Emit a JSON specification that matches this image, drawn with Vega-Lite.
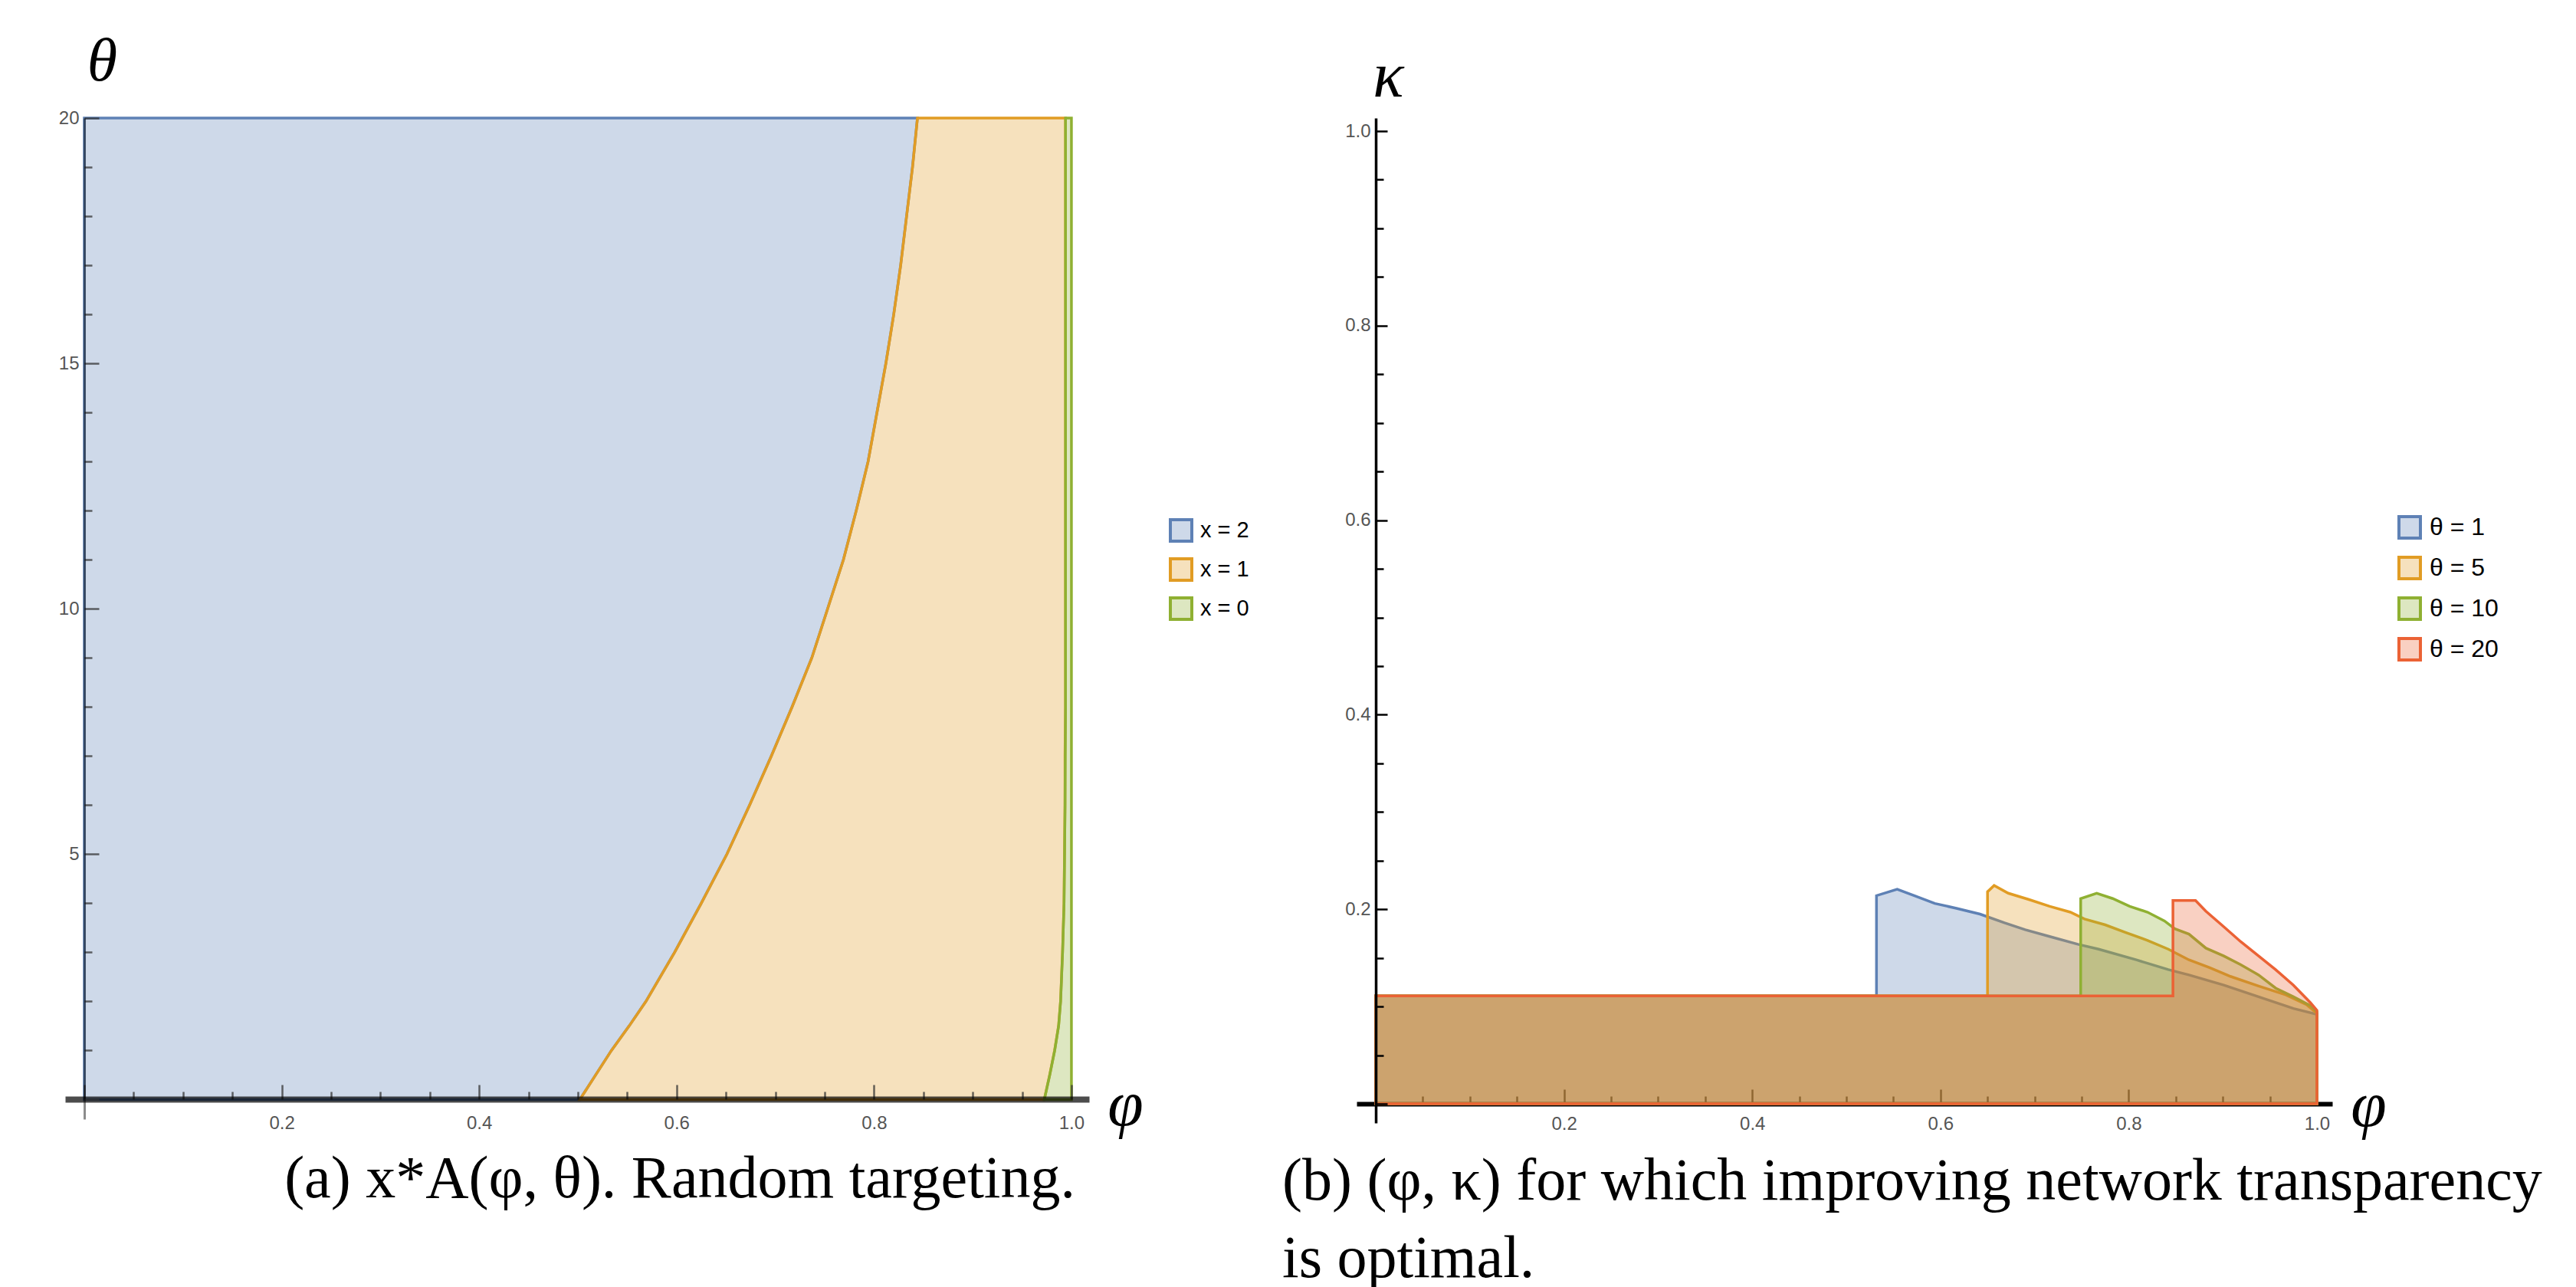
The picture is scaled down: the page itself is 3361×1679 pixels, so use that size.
{
  "$schema": "https://vega.github.io/schema/vega-lite/v6.json",
  "background": "white",
  "padding": {"left": 76, "top": 40, "right": 5, "bottom": 5},
  "bounds": "flush",
  "spacing": 349,
  "resolve": {"scale": {"fill": "independent", "stroke": "independent"}, "legend": {"fill": "independent", "stroke": "independent"}},
  "config": {"view": {"stroke": null}},
  "datasets": {
    "left": [
      {"r": "x = 2", "theta": 0, "lo": 0, "hi": 0.502},
      {"r": "x = 2", "theta": 0.5, "lo": 0, "hi": 0.518},
      {"r": "x = 2", "theta": 1, "lo": 0, "hi": 0.534},
      {"r": "x = 2", "theta": 1.5, "lo": 0, "hi": 0.552},
      {"r": "x = 2", "theta": 2, "lo": 0, "hi": 0.569},
      {"r": "x = 2", "theta": 3, "lo": 0, "hi": 0.598},
      {"r": "x = 2", "theta": 4, "lo": 0, "hi": 0.625},
      {"r": "x = 2", "theta": 5, "lo": 0, "hi": 0.651},
      {"r": "x = 2", "theta": 6, "lo": 0, "hi": 0.674},
      {"r": "x = 2", "theta": 7, "lo": 0, "hi": 0.696},
      {"r": "x = 2", "theta": 8, "lo": 0, "hi": 0.717},
      {"r": "x = 2", "theta": 9, "lo": 0, "hi": 0.737},
      {"r": "x = 2", "theta": 10, "lo": 0, "hi": 0.753},
      {"r": "x = 2", "theta": 11, "lo": 0, "hi": 0.769},
      {"r": "x = 2", "theta": 12, "lo": 0, "hi": 0.782},
      {"r": "x = 2", "theta": 13, "lo": 0, "hi": 0.794},
      {"r": "x = 2", "theta": 14, "lo": 0, "hi": 0.803},
      {"r": "x = 2", "theta": 15, "lo": 0, "hi": 0.812},
      {"r": "x = 2", "theta": 16, "lo": 0, "hi": 0.82},
      {"r": "x = 2", "theta": 17, "lo": 0, "hi": 0.827},
      {"r": "x = 2", "theta": 18, "lo": 0, "hi": 0.833},
      {"r": "x = 2", "theta": 19, "lo": 0, "hi": 0.839},
      {"r": "x = 2", "theta": 20, "lo": 0, "hi": 0.844},
      {"r": "x = 1", "theta": 0, "lo": 0.502, "hi": 0.9725},
      {"r": "x = 1", "theta": 0.5, "lo": 0.518, "hi": 0.978},
      {"r": "x = 1", "theta": 1, "lo": 0.534, "hi": 0.983},
      {"r": "x = 1", "theta": 1.5, "lo": 0.552, "hi": 0.987},
      {"r": "x = 1", "theta": 2, "lo": 0.569, "hi": 0.989},
      {"r": "x = 1", "theta": 3, "lo": 0.598, "hi": 0.991},
      {"r": "x = 1", "theta": 4, "lo": 0.625, "hi": 0.9925},
      {"r": "x = 1", "theta": 5, "lo": 0.651, "hi": 0.993},
      {"r": "x = 1", "theta": 6, "lo": 0.674, "hi": 0.9935},
      {"r": "x = 1", "theta": 7, "lo": 0.696, "hi": 0.9935},
      {"r": "x = 1", "theta": 8, "lo": 0.717, "hi": 0.994},
      {"r": "x = 1", "theta": 9, "lo": 0.737, "hi": 0.994},
      {"r": "x = 1", "theta": 10, "lo": 0.753, "hi": 0.994},
      {"r": "x = 1", "theta": 11, "lo": 0.769, "hi": 0.994},
      {"r": "x = 1", "theta": 12, "lo": 0.782, "hi": 0.994},
      {"r": "x = 1", "theta": 13, "lo": 0.794, "hi": 0.994},
      {"r": "x = 1", "theta": 14, "lo": 0.803, "hi": 0.994},
      {"r": "x = 1", "theta": 15, "lo": 0.812, "hi": 0.994},
      {"r": "x = 1", "theta": 16, "lo": 0.82, "hi": 0.994},
      {"r": "x = 1", "theta": 17, "lo": 0.827, "hi": 0.994},
      {"r": "x = 1", "theta": 18, "lo": 0.833, "hi": 0.994},
      {"r": "x = 1", "theta": 19, "lo": 0.839, "hi": 0.994},
      {"r": "x = 1", "theta": 20, "lo": 0.844, "hi": 0.994},
      {"r": "x = 0", "theta": 0, "lo": 0.9725, "hi": 1},
      {"r": "x = 0", "theta": 0.5, "lo": 0.978, "hi": 1},
      {"r": "x = 0", "theta": 1, "lo": 0.983, "hi": 1},
      {"r": "x = 0", "theta": 1.5, "lo": 0.987, "hi": 1},
      {"r": "x = 0", "theta": 2, "lo": 0.989, "hi": 1},
      {"r": "x = 0", "theta": 3, "lo": 0.991, "hi": 1},
      {"r": "x = 0", "theta": 4, "lo": 0.9925, "hi": 1},
      {"r": "x = 0", "theta": 5, "lo": 0.993, "hi": 1},
      {"r": "x = 0", "theta": 6, "lo": 0.9935, "hi": 1},
      {"r": "x = 0", "theta": 8, "lo": 0.994, "hi": 1},
      {"r": "x = 0", "theta": 20, "lo": 0.994, "hi": 1}
    ],
    "right": [
      {"s": "θ = 1", "phi": 0, "kappa": 0.111},
      {"s": "θ = 1", "phi": 0.532, "kappa": 0.111},
      {"s": "θ = 1", "phi": 0.532, "kappa": 0.214},
      {"s": "θ = 1", "phi": 0.554, "kappa": 0.2205},
      {"s": "θ = 1", "phi": 0.572, "kappa": 0.214},
      {"s": "θ = 1", "phi": 0.594, "kappa": 0.206},
      {"s": "θ = 1", "phi": 0.617, "kappa": 0.201},
      {"s": "θ = 1", "phi": 0.642, "kappa": 0.195},
      {"s": "θ = 1", "phi": 0.668, "kappa": 0.186},
      {"s": "θ = 1", "phi": 0.69, "kappa": 0.179},
      {"s": "θ = 1", "phi": 0.716, "kappa": 0.172},
      {"s": "θ = 1", "phi": 0.746, "kappa": 0.164},
      {"s": "θ = 1", "phi": 0.768, "kappa": 0.159},
      {"s": "θ = 1", "phi": 0.808, "kappa": 0.148},
      {"s": "θ = 1", "phi": 0.842, "kappa": 0.138},
      {"s": "θ = 1", "phi": 0.864, "kappa": 0.1325},
      {"s": "θ = 1", "phi": 0.901, "kappa": 0.122},
      {"s": "θ = 1", "phi": 0.938, "kappa": 0.11},
      {"s": "θ = 1", "phi": 0.975, "kappa": 0.098},
      {"s": "θ = 1", "phi": 1.0, "kappa": 0.092},
      {"s": "θ = 5", "phi": 0, "kappa": 0.111},
      {"s": "θ = 5", "phi": 0.65, "kappa": 0.111},
      {"s": "θ = 5", "phi": 0.65, "kappa": 0.218},
      {"s": "θ = 5", "phi": 0.657, "kappa": 0.2244},
      {"s": "θ = 5", "phi": 0.672, "kappa": 0.2165},
      {"s": "θ = 5", "phi": 0.694, "kappa": 0.21},
      {"s": "θ = 5", "phi": 0.716, "kappa": 0.203},
      {"s": "θ = 5", "phi": 0.738, "kappa": 0.197},
      {"s": "θ = 5", "phi": 0.753, "kappa": 0.19},
      {"s": "θ = 5", "phi": 0.775, "kappa": 0.184},
      {"s": "θ = 5", "phi": 0.797, "kappa": 0.176},
      {"s": "θ = 5", "phi": 0.82, "kappa": 0.168},
      {"s": "θ = 5", "phi": 0.842, "kappa": 0.159},
      {"s": "θ = 5", "phi": 0.864, "kappa": 0.148},
      {"s": "θ = 5", "phi": 0.886, "kappa": 0.14},
      {"s": "θ = 5", "phi": 0.908, "kappa": 0.131},
      {"s": "θ = 5", "phi": 0.938, "kappa": 0.121},
      {"s": "θ = 5", "phi": 0.967, "kappa": 0.112},
      {"s": "θ = 5", "phi": 0.989, "kappa": 0.102},
      {"s": "θ = 5", "phi": 1.0, "kappa": 0.093},
      {"s": "θ = 10", "phi": 0, "kappa": 0.111},
      {"s": "θ = 10", "phi": 0.749, "kappa": 0.111},
      {"s": "θ = 10", "phi": 0.749, "kappa": 0.211},
      {"s": "θ = 10", "phi": 0.766, "kappa": 0.2165},
      {"s": "θ = 10", "phi": 0.783, "kappa": 0.211},
      {"s": "θ = 10", "phi": 0.801, "kappa": 0.203},
      {"s": "θ = 10", "phi": 0.82, "kappa": 0.197},
      {"s": "θ = 10", "phi": 0.838, "kappa": 0.188},
      {"s": "θ = 10", "phi": 0.849, "kappa": 0.18},
      {"s": "θ = 10", "phi": 0.864, "kappa": 0.1745},
      {"s": "θ = 10", "phi": 0.882, "kappa": 0.16},
      {"s": "θ = 10", "phi": 0.901, "kappa": 0.152},
      {"s": "θ = 10", "phi": 0.919, "kappa": 0.143},
      {"s": "θ = 10", "phi": 0.938, "kappa": 0.1325},
      {"s": "θ = 10", "phi": 0.956, "kappa": 0.119},
      {"s": "θ = 10", "phi": 0.975, "kappa": 0.11},
      {"s": "θ = 10", "phi": 0.993, "kappa": 0.101},
      {"s": "θ = 10", "phi": 1.0, "kappa": 0.0945},
      {"s": "θ = 20", "phi": 0, "kappa": 0.111},
      {"s": "θ = 20", "phi": 0.847, "kappa": 0.111},
      {"s": "θ = 20", "phi": 0.847, "kappa": 0.209},
      {"s": "θ = 20", "phi": 0.871, "kappa": 0.209},
      {"s": "θ = 20", "phi": 0.882, "kappa": 0.198},
      {"s": "θ = 20", "phi": 0.901, "kappa": 0.182},
      {"s": "θ = 20", "phi": 0.919, "kappa": 0.1667},
      {"s": "θ = 20", "phi": 0.938, "kappa": 0.152},
      {"s": "θ = 20", "phi": 0.956, "kappa": 0.138},
      {"s": "θ = 20", "phi": 0.975, "kappa": 0.122},
      {"s": "θ = 20", "phi": 0.993, "kappa": 0.104},
      {"s": "θ = 20", "phi": 1.0, "kappa": 0.096}
    ]
  },
  "hconcat": [
    {
      "width": 1336,
      "height": 1306,
      "data": {"name": "left"},
      "title": {
        "text": "(a) x*A(φ, θ). Random targeting.",
        "orient": "bottom",
        "anchor": "end",
        "frame": "group",
        "font": "Liberation Serif",
        "fontSize": 78,
        "fontWeight": "normal",
        "color": "black",
        "offset": 14,
        "dx": -18
      },
      "encoding": {
        "y": {
          "field": "theta",
          "type": "quantitative",
          "scale": {"domain": [-0.4, 20], "nice": false, "zero": false},
          "axis": {
            "values": [0,1,2,3,4,5,6,7,8,9,10,11,12,13,14,15,16,17,18,19,20],
            "labelExpr": "datum.value % 5 == 0 && datum.value > 0 ? '' + datum.value : ''",
            "tickSize": {"condition": {"test": "datum.value % 5 == 0", "value": -19}, "value": -10},
            "tickColor": "#333",
            "tickWidth": 2.5,
            "tickOpacity": 0.75,
            "domain": true,
            "domainColor": "#000",
            "domainWidth": 3,
            "domainOpacity": 0.45,
            "offset": -25,
            "grid": false,
            "labelFont": "Liberation Sans",
            "labelFontSize": 24,
            "labelColor": "#555",
            "labelPadding": 26,
            "labelFlush": false,
            "labelOverlap": false,
            "title": "θ",
            "titleFont": "Liberation Serif",
            "titleFontStyle": "italic",
            "titleFontWeight": "normal",
            "titleFontSize": 80,
            "titleColor": "black",
            "titleAngle": 0,
            "titleAlign": "center",
            "titleBaseline": "middle",
            "titleX": 23,
            "titleY": -74,
            "zindex": 1
          }
        },
        "x": {
          "field": "lo",
          "type": "quantitative",
          "scale": {"domain": [-0.0194, 1.0179], "nice": false, "zero": false},
          "axis": {
            "values": [0,0.05,0.1,0.15,0.2,0.25,0.3,0.35,0.4,0.45,0.5,0.55,0.6,0.65,0.7,0.75,0.8,0.85,0.9,0.95,1],
            "labelExpr": "abs(datum.value*5-round(datum.value*5))<0.001 && datum.value>0.001 ? format(datum.value,'.1f') : ''",
            "tickSize": {"condition": {"test": "abs(datum.value*5-round(datum.value*5))<0.001", "value": -19}, "value": -10},
            "tickColor": "#333",
            "tickWidth": 2.5,
            "tickOpacity": 0.75,
            "domainColor": "#000",
            "domainWidth": 8,
            "domainOpacity": 0.7,
            "offset": -26,
            "grid": false,
            "labelFont": "Liberation Sans",
            "labelFontSize": 24,
            "labelColor": "#555",
            "labelPadding": 38,
            "labelFlush": false,
            "labelOverlap": false,
            "title": "φ",
            "titleFont": "Liberation Serif",
            "titleFontStyle": "italic",
            "titleFontWeight": "normal",
            "titleFontSize": 84,
            "titleColor": "black",
            "titleAngle": 0,
            "titleAlign": "center",
            "titleBaseline": "middle",
            "titleX": 1383,
            "titleY": 8,
            "zindex": 1
          }
        },
        "x2": {"field": "hi"},
        "fill": {
          "field": "r", "type": "nominal",
          "scale": {"domain": ["x = 2", "x = 1", "x = 0"], "range": ["#5E81B5", "#E19C24", "#8FB032"]},
          "legend": {"orient": "none", "legendX": 1440, "legendY": 522, "title": null, "symbolType": "square", "symbolSize": 784, "symbolStrokeWidth": 3.5, "labelFont": "Liberation Sans", "labelFontSize": 29, "labelColor": "black", "labelOffset": 9, "rowPadding": 7,
            "encode": {"symbols": {"update": {"fillOpacity": {"value": 0.3}, "strokeWidth": {"value": 4}}}}}
        },
        "stroke": {
          "field": "r", "type": "nominal",
          "scale": {"domain": ["x = 2", "x = 1", "x = 0"], "range": ["#5E81B5", "#E19C24", "#8FB032"]},
          "legend": {"orient": "none", "legendX": 1440, "legendY": 522, "title": null, "symbolType": "square", "symbolSize": 784, "symbolStrokeWidth": 3.5, "labelFont": "Liberation Sans", "labelFontSize": 29, "labelColor": "black", "labelOffset": 9, "rowPadding": 7,
            "encode": {"symbols": {"update": {"fillOpacity": {"value": 0.3}, "strokeWidth": {"value": 4}}}}}
        }
      },
      "layer": [
        {
          "transform": [{"filter": "datum.r == 'x = 2'"}],
          "mark": {"type": "area", "orient": "horizontal", "fillOpacity": 0.3, "strokeWidth": 3.5}
        },
        {
          "transform": [{"filter": "datum.r == 'x = 1'"}],
          "mark": {"type": "area", "orient": "horizontal", "fillOpacity": 0.3, "strokeWidth": 3.5}
        },
        {
          "transform": [{"filter": "datum.r == 'x = 0'"}],
          "mark": {"type": "area", "orient": "horizontal", "fillOpacity": 0.3, "strokeWidth": 3.5}
        }
      ]
    },
    {
      "width": 1273,
      "height": 1311,
      "data": {"name": "right"},
      "title": {
        "text": ["(b) (φ, κ) for which improving network transparency", "is optimal."],
        "orient": "bottom",
        "anchor": "start",
        "frame": "group",
        "font": "Liberation Serif",
        "fontSize": 78,
        "fontWeight": "normal",
        "color": "black",
        "lineHeight": 101,
        "offset": 16,
        "dx": -97
      },
      "encoding": {
        "x": {
          "field": "phi",
          "type": "quantitative",
          "scale": {"domain": [-0.0204, 1.0163], "nice": false, "zero": false},
          "axis": {
            "values": [0,0.05,0.1,0.15,0.2,0.25,0.3,0.35,0.4,0.45,0.5,0.55,0.6,0.65,0.7,0.75,0.8,0.85,0.9,0.95,1],
            "labelExpr": "abs(datum.value*5-round(datum.value*5))<0.001 && datum.value>0.001 ? format(datum.value,'.1f') : ''",
            "tickSize": {"condition": {"test": "abs(datum.value*5-round(datum.value*5))<0.001", "value": -19}, "value": -10},
            "tickColor": "#000",
            "tickWidth": 2.5,
            "domainColor": "#000",
            "domainWidth": 6,
            "offset": -25,
            "grid": false,
            "labelFont": "Liberation Sans",
            "labelFontSize": 24,
            "labelColor": "#555",
            "labelPadding": 33,
            "labelFlush": false,
            "labelOverlap": false,
            "title": "φ",
            "titleFont": "Liberation Serif",
            "titleFontStyle": "italic",
            "titleFontWeight": "normal",
            "titleFontSize": 84,
            "titleColor": "black",
            "titleAngle": 0,
            "titleAlign": "center",
            "titleBaseline": "middle",
            "titleX": 1320,
            "titleY": 3,
            "zindex": 0
          }
        },
        "y": {
          "field": "kappa",
          "type": "quantitative",
          "stack": null,
          "scale": {"domain": [-0.0197, 1.0134], "nice": false, "zero": false},
          "axis": {
            "values": [0,0.05,0.1,0.15,0.2,0.25,0.3,0.35,0.4,0.45,0.5,0.55,0.6,0.65,0.7,0.75,0.8,0.85,0.9,0.95,1],
            "labelExpr": "abs(datum.value*5-round(datum.value*5))<0.001 && datum.value>0.001 ? format(datum.value,'.1f') : ''",
            "tickSize": {"condition": {"test": "abs(datum.value*5-round(datum.value*5))<0.001", "value": -15}, "value": -10},
            "tickColor": "#000",
            "tickWidth": 2.5,
            "domainColor": "#000",
            "domainWidth": 3.5,
            "offset": -25,
            "grid": false,
            "labelFont": "Liberation Sans",
            "labelFontSize": 24,
            "labelColor": "#555",
            "labelPadding": 22,
            "labelFlush": false,
            "labelOverlap": false,
            "title": "κ",
            "titleFont": "Liberation Serif",
            "titleFontStyle": "italic",
            "titleFontWeight": "normal",
            "titleFontSize": 84,
            "titleColor": "black",
            "titleAngle": 0,
            "titleAlign": "center",
            "titleBaseline": "middle",
            "titleX": 16,
            "titleY": -54,
            "zindex": 1
          }
        },
        "fill": {
          "field": "s", "type": "nominal",
          "scale": {"domain": ["θ = 1", "θ = 5", "θ = 10", "θ = 20"], "range": ["#5E81B5", "#E19C24", "#8FB032", "#EB6235"]},
          "legend": {"orient": "none", "legendX": 1358, "legendY": 518, "title": null, "symbolType": "square", "symbolSize": 784, "symbolStrokeWidth": 3.5, "labelFont": "Liberation Sans", "labelFontSize": 32, "labelColor": "black", "labelOffset": 10, "rowPadding": 9,
            "encode": {"symbols": {"update": {"fillOpacity": {"value": 0.3}, "strokeWidth": {"value": 4}}}}}
        },
        "stroke": {
          "field": "s", "type": "nominal",
          "scale": {"domain": ["θ = 1", "θ = 5", "θ = 10", "θ = 20"], "range": ["#5E81B5", "#E19C24", "#8FB032", "#EB6235"]},
          "legend": {"orient": "none", "legendX": 1358, "legendY": 518, "title": null, "symbolType": "square", "symbolSize": 784, "symbolStrokeWidth": 3.5, "labelFont": "Liberation Sans", "labelFontSize": 32, "labelColor": "black", "labelOffset": 10, "rowPadding": 9,
            "encode": {"symbols": {"update": {"fillOpacity": {"value": 0.3}, "strokeWidth": {"value": 4}}}}}
        }
      },
      "layer": [
        {
          "transform": [{"filter": "datum.s == 'θ = 1'"}],
          "mark": {"type": "area", "fillOpacity": 0.3, "strokeWidth": 3.5}
        },
        {
          "transform": [{"filter": "datum.s == 'θ = 5'"}],
          "mark": {"type": "area", "fillOpacity": 0.3, "strokeWidth": 3.5}
        },
        {
          "transform": [{"filter": "datum.s == 'θ = 10'"}],
          "mark": {"type": "area", "fillOpacity": 0.3, "strokeWidth": 3.5}
        },
        {
          "transform": [{"filter": "datum.s == 'θ = 20'"}],
          "mark": {"type": "area", "fillOpacity": 0.3, "strokeWidth": 3.5}
        }
      ]
    }
  ]
}
